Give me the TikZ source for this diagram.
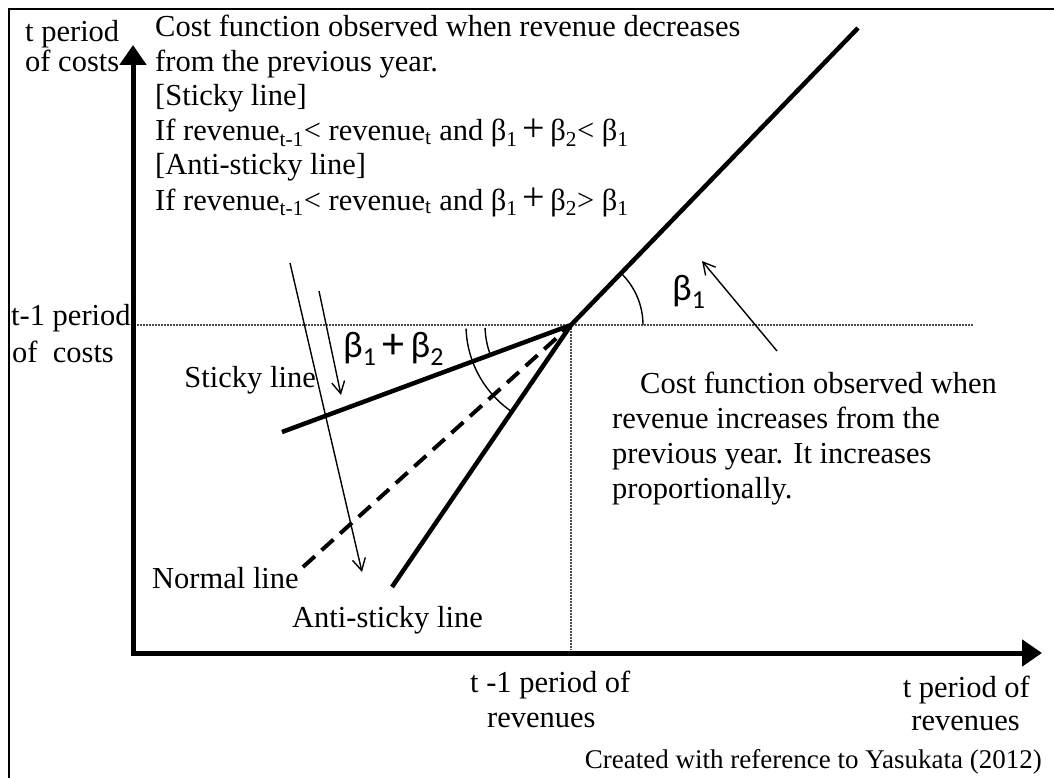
\documentclass[tikz,border=0pt]{standalone}
\usepackage{fontspec}
\setmainfont{Liberation Serif}
\newfontfamily\calib{Carlito}
\usetikzlibrary{arrows.meta}
\newcommand{\bigplus}{\,\raisebox{-1pt}{\fontsize{40}{40}\selectfont +}\,}
\begin{document}
\begin{tikzpicture}[x=1pt,y=-1pt,
  txt/.style={anchor=base west, inner sep=0pt, font=\fontsize{30.5}{34}\selectfont},
  txtr/.style={anchor=base east, inner sep=0pt, font=\fontsize{30.5}{34}\selectfont},
  greek/.style={anchor=base west, inner sep=0pt, font=\calib\fontsize{37}{40}\selectfont},
  small/.style={anchor=base east, inner sep=0pt, font=\fontsize{27}{30}\selectfont},
  thinarrow/.style={line width=1.4pt, -{Straight Barb[length=12pt,width=13pt,line width=1.4pt]}},
  axis/.style={line width=5pt, -{Triangle[length=20pt,width=26pt]}},
  costline/.style={line width=4.5pt},
  normalline/.style={line width=4pt, dash pattern=on 16pt off 9pt},
  guide/.style={line width=1.2pt, black!70, dash pattern=on 2pt off 1pt},
  arcline/.style={line width=1.4pt}]
\useasboundingbox (0,0) rectangle (1054,778);
% frame
\coordinate (f1) at (9,778);
\coordinate (f2) at (9,9);
\coordinate (f3) at (1054,9);
\draw[line width=2pt] (f1) -- (f2) -- (f3);
% axes
\coordinate (O) at (133,655.5);
\coordinate (Ox) at (130.5,653);
\coordinate (ytip) at (133,45);
\coordinate (xtip) at (1042,653);
\draw[axis] (O) -- (ytip);
\draw[axis] (Ox) -- (xtip);
% guides
\coordinate (P) at (571,325);
\coordinate (hl) at (137,325);
\coordinate (hr) at (973,325);
\coordinate (vb) at (571,650);
\draw[guide] (hl) -- (hr);
\draw[guide] (P) -- (vb);
% cost lines
\coordinate (prop) at (858,28);
\coordinate (sticky) at (282,432);
\coordinate (normal) at (303,567);
\coordinate (anti) at (392,587);
\draw[costline] (P) -- (prop);
\draw[costline] (sticky) -- (P);
\draw[costline] (anti) -- (P);
\draw[normalline] (normal) -- (P);
% arcs
\draw[arcline] (P) ++(0:72) arc[start angle=0,end angle=-46,radius=72];
\draw[arcline] (P) ++(178:86) arc[start angle=178,end angle=160,radius=86];
\draw[arcline] (P) ++(178:105) arc[start angle=178,end angle=124.3,radius=105];
% thin arrows
\coordinate (la1) at (290,263);
\coordinate (la2) at (362,572);
\coordinate (sa1) at (319,291);
\coordinate (sa2) at (341,395);
\coordinate (ba1) at (777,351);
\coordinate (ba2) at (702,261);
\draw[thinarrow] (la1) -- (la2);
\draw[thinarrow] (sa1) -- (sa2);
\draw[thinarrow] (ba1) -- (ba2);
% texts
\node[txt] (ylab1) at (25,42) {t period};
\node[txt] (ylab2) at (25,72) {of costs};
\node[txt] (top1) at (155,37) {Cost function observed when revenue decreases};
\node[txt] (top2) at (155,71.5) {from the previous year.};
\node[txt] (top3) at (155,106) {[Sticky line]};
\node[txt] (top4) at (155,141) {If revenue\textsubscript{t-1}< revenue\textsubscript{t} and β\textsubscript{1}\bigplus β\textsubscript{2}< β\textsubscript{1}};
\node[txt] (top5) at (155,175) {[Anti-sticky line]};
\node[txt] (top6) at (155,210) {If revenue\textsubscript{t-1}< revenue\textsubscript{t} and β\textsubscript{1}\bigplus β\textsubscript{2}> β\textsubscript{1}};
\node[txt] (tc1) at (11,325) {t-1 period};
\node[txt] (tc2) at (12,362) {of\ \ costs};
\node[txtr] (stickylab) at (316,387) {Sticky line};
\node[greek] (b12) at (343,357) {β\textsubscript{1}\,\raisebox{-1pt}{\fontsize{44}{44}\selectfont +}\,β\textsubscript{2}};
\node[greek] (b1) at (672,300) {β\textsubscript{1}};
\node[txt] (r1) at (640,393) {Cost function observed when};
\node[txt] (r2) at (612,428) {revenue increases from the};
\node[txt] (r3) at (612,463) {previous year. It increases};
\node[txt] (r4) at (612,498) {proportionally.};
\node[txt] (normallab) at (152,588) {Normal line};
\node[txt] (antilab) at (292,627) {Anti-sticky line};
\node[txt] (xl1) at (470,692) {t -1 period of};
\node[txt] (xl2) at (487,727) {revenues};
\node[txtr] (xr1) at (1030,697) {t period of};
\node[txtr] (xr2) at (1020,730) {revenues};
\node[small] (credit) at (1042,768) {Created with reference to Yasukata (2012)};
\end{tikzpicture}
\end{document}
